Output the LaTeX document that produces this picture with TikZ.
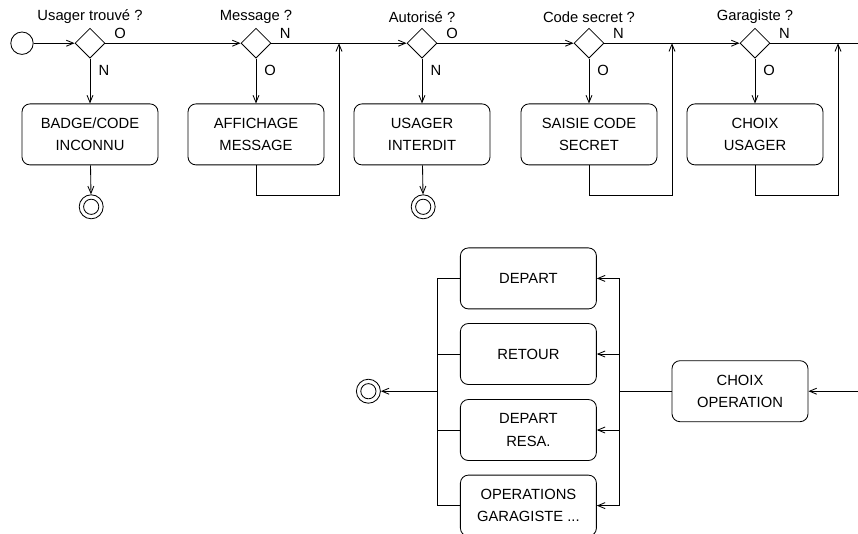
\documentclass[tikz,border=0pt]{standalone}
\usepackage{fontspec}
\setmainfont{Liberation Sans}
\usetikzlibrary{arrows.meta,shapes.geometric}
\tikzset{
	etat/.style={draw, rounded corners=0.2cm, minimum width=3.4cm, minimum height=1.525cm, inner sep=0pt, align=center},
	choix/.style={draw, diamond, minimum size=0.75cm, inner sep=0pt},
	debut/.style={draw, circle, minimum size=0.56cm, inner sep=0pt},
	fin/.style={draw, circle, minimum size=0.6cm, inner sep=0pt, path picture={\draw (path picture bounding box.center) circle (0.19cm);}},
	fleche/.style={-{Straight Barb[length=1.8mm,width=1.5mm]}}
}

\begin{document}
\begin{tikzpicture}[line width=0.6pt, font=\fontsize{10.5pt}{16pt}\selectfont]
			\useasboundingbox (0,0) rectangle (21.45,-13.325);
			%%%%% HAUT %%%%%
			
			\node[debut] (d0) at (0.55, -1.08) {};
			
			\node[choix] (q1) at (2.25, -1.08) {};
			\node[choix] (q2) at (6.4, -1.08) {};
			\node[choix] (q3) at (10.55, -1.08) {};
			\node[choix] (q4) at (14.725, -1.08) {};
			\node[choix] (q5) at (18.875, -1.08) {};
			
			\node (t1) at (2.25, -0.42) {Usager trouvé ?};
			\node (t2) at (6.4, -0.42) {Message ?};
			\node (t3) at (10.55, -0.42) {Autorisé ?};
			\node (t4) at (14.725, -0.42) {Code secret ?};
			\node (t5) at (18.875, -0.42) {Garagiste ?};
			
			\node (l1a) at (3.0, -0.84) {O};
			\node (l1b) at (2.6, -1.76) {N};
			\node (l2a) at (7.13, -0.84) {N};
			\node (l2b) at (6.75, -1.76) {O};
			\node (l3a) at (11.3, -0.84) {O};
			\node (l3b) at (10.9, -1.76) {N};
			\node (l4a) at (15.46, -0.84) {N};
			\node (l4b) at (15.08, -1.76) {O};
			\node (l5a) at (19.61, -0.84) {N};
			\node (l5b) at (19.23, -1.76) {O};
			
			\node[etat] (b1) at (2.25, -3.36) {BADGE/CODE\\INCONNU};
			\node[etat] (b2) at (6.4, -3.36) {AFFICHAGE\\MESSAGE};
			\node[etat] (b3) at (10.55, -3.36) {USAGER\\INTERDIT};
			\node[etat] (b4) at (14.725, -3.36) {SAISIE CODE\\SECRET};
			\node[etat] (b5) at (18.875, -3.36) {CHOIX\\USAGER};
			
			\node[fin] (f1) at (2.28, -5.17) {};
			\node[fin] (f3) at (10.58, -5.17) {};
			
			\coordinate (r2) at (8.475, -1.08);
			\coordinate (r2b) at (8.475, -4.875);
			\coordinate (r4) at (16.8, -1.08);
			\coordinate (r4b) at (16.8, -4.875);
			\coordinate (r5) at (20.95, -1.08);
			\coordinate (r5b) at (20.95, -4.875);
			\coordinate (sortie) at (21.45, -1.08);
			
			\draw[fleche] (d0) -- (q1);
			\draw[fleche] (q1) -- (q2);
			\draw[fleche] (q2) -- (q3);
			\draw[fleche] (q3) -- (q4);
			\draw[fleche] (q4) -- (q5);
			\draw (q5) -- (sortie);
			
			\draw[fleche] (q1) -- (b1);
			\draw[fleche] (q2) -- (b2);
			\draw[fleche] (q3) -- (b3);
			\draw[fleche] (q4) -- (b4);
			\draw[fleche] (q5) -- (b5);
			
			\draw[fleche] (b1) -- (f1);
			\draw[fleche] (b3) -- (f3);
			
			\draw[fleche] (b2) |- (r2b) -- (r2);
			\draw[fleche] (b4) |- (r4b) -- (r4);
			\draw[fleche] (b5) |- (r5b) -- (r5);
			
			%%%%% BAS %%%%%
			
			\node[etat] (o1) at (13.21, -6.96) {DEPART};
			\node[etat] (o2) at (13.21, -8.85) {RETOUR};
			\node[etat] (o3) at (13.21, -10.75) {DEPART\\RESA.};
			\node[etat] (o4) at (13.21, -12.64) {OPERATIONS\\GARAGISTE ...};
			
			\node[etat] (co) at (18.5, -9.78) {CHOIX\\OPERATION};
			\node[fin] (f9) at (9.21, -9.78) {};
			
			\coordinate (entree) at (21.45, -9.78);
			\coordinate (busd) at (15.475, -9.78);
			\coordinate (busg) at (10.925, -9.78);
			
			\draw[fleche] (entree) -- (co);
			\draw (co) -- (busd);
			\draw[fleche] (busd) |- (o1);
			\draw[fleche] (busd) |- (o2);
			\draw[fleche] (busd) |- (o3);
			\draw[fleche] (busd) |- (o4);
			
			\draw (o1) -| (busg);
			\draw (o2) -| (busg);
			\draw (o3) -| (busg);
			\draw (o4) -| (busg);
			\draw[fleche] (busg) -- (f9);
			
			%%%%% FIN %%%%%
\end{tikzpicture}
\end{document}
